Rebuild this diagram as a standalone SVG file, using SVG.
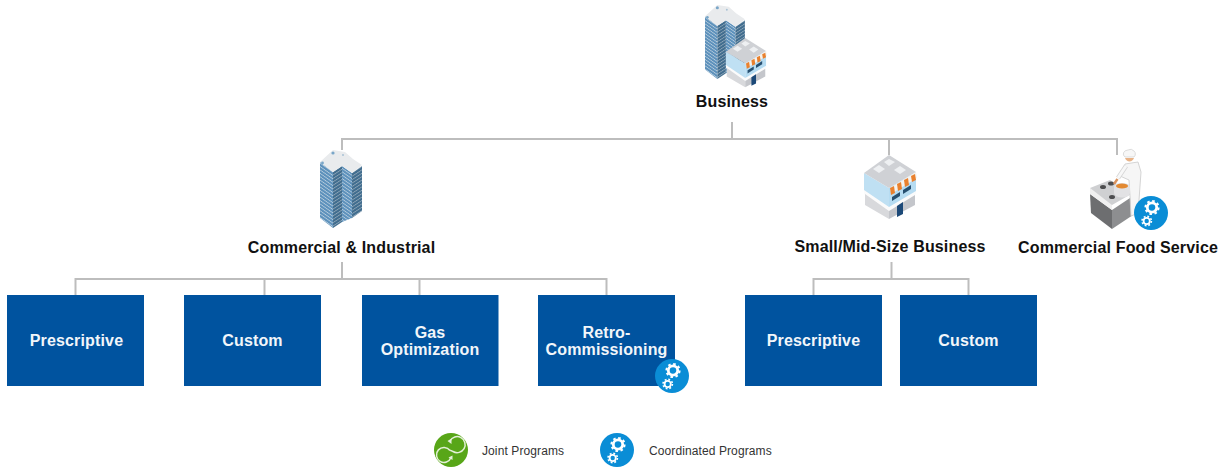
<svg xmlns="http://www.w3.org/2000/svg" width="1230" height="470" viewBox="0 0 1230 470">
<style>
text{font-family:"Liberation Sans",Arial,sans-serif}
.lbl{font-size:16px;font-weight:700;fill:#111;text-anchor:middle;letter-spacing:.15px}
.box{fill:#00539f}
.bt{font-size:16px;font-weight:700;fill:#f2f6fa;text-anchor:middle;letter-spacing:.15px}
.leg{font-size:12px;fill:#333;letter-spacing:.1px}
.con{fill:none;stroke:#bdbdbd;stroke-width:2}
.icon{filter:url(#soft)}
</style>
<defs>
<filter id="soft" x="-5%" y="-5%" width="110%" height="110%"><feGaussianBlur stdDeviation=".5"/></filter>
<pattern id="st1" width="4" height="3.4" patternUnits="userSpaceOnUse" patternTransform="skewY(35)"><rect width="4" height="3.4" fill="#5b90bb"/><rect width="4" height="1" fill="#b4cbdc"/></pattern>
<pattern id="st2" width="4" height="3.4" patternUnits="userSpaceOnUse" patternTransform="skewY(-33)"><rect width="4" height="3.4" fill="#3f6c8e"/><rect width="4" height="1" fill="#8ca4b6"/></pattern>
<g id="tower">
<polygon points="0,13 13,23 13,79 0,69" fill="url(#st1)"/>
<polygon points="13,23 22,17 22,73 13,79" fill="url(#st2)"/>
<polygon points="22,17 32,24 32,69 22,73" fill="url(#st1)"/>
<polygon points="32,24 42,17 42,62 32,69" fill="url(#st2)"/>
<polygon points="0,13 13,1 25,3 33,10 42,16 32,24 22,17 13,23" fill="#e9ebed"/>
<circle cx="2.500" cy="14" r="1.400" fill="#79a6c8"/><circle cx="13" cy="4" r="1.600" fill="#79a6c8"/><circle cx="23" cy="6" r="1" fill="#a9c2d5"/>
</g>
<g id="store">
<polygon points="0,18 25,33 25,55 0,37" fill="#bfe0f3"/>
<polygon points="25,33 52,17 52,38 25,55" fill="#b6dcf2"/>
<polygon points="0,18 25,0 52,17 25,33" fill="#cfd1d5"/>
<polygon points="9,14 15,10 21,14 15,18" fill="#eef0f2"/><polygon points="20,7 25,4 31,7 25,11" fill="#eef0f2"/><polygon points="30,15 36,11 42,15 36,19" fill="#eef0f2"/>
<polygon points="0,35 25,52 52,36 52,39 25,56 0,39" fill="#fbfbfb"/>
<polygon points="1,39 25,56 25,64 1,50" fill="#d8d9dc"/>
<polygon points="25,56 51,40 51,50 25,64" fill="#c4c6cb"/>
<polygon points="26,33 52,17 53,23 27,39" fill="#f6f3ee"/>
<polygon points="26,33 30,31 31,38 27,40" fill="#e9812f"/><polygon points="33,29 37,27 38,34 34,36" fill="#e9812f"/><polygon points="40,25 44,23 45,30 41,32" fill="#e9812f"/><polygon points="47,21 51,19 52,25 48,27" fill="#e9812f"/>
<polygon points="28,42 36,37 36,41 28,46" fill="#26506f"/><polygon points="39,35 47,30 47,34 39,39" fill="#26506f"/>
<polygon points="33,51 39,47 39,59 33,62" fill="#1d4a78"/>
</g>
<g id="gears" fill="none" stroke="#fff">
<circle cx="1" cy="-5.500" r="4.700" stroke-width="2.800"/>
<circle cx="1" cy="-5.500" r="6.600" stroke-width="2" stroke-dasharray="2.590 2.590"/>
<circle cx="-4.300" cy="8" r="3.100" stroke-width="1.800"/>
<circle cx="-4.300" cy="8" r="4.700" stroke-width="1.600" stroke-dasharray="1.850 1.850"/>
</g>
<g id="coord"><circle r="17" fill="#0a8dd6"/><use href="#gears"/></g>
</defs>

<g id="connectors">
<path class="con" d="M732 122V139M342 150V139H1117V155M889 139V155"/>
<path class="con" d="M342 262V279M75.500 295V279H606.500V295M264.500 279V295M419.500 279V295"/>
<path class="con" d="M891.500 262V279M813.500 295V279H968.500V295"/>
</g>

<g id="business">
<use class="icon" href="#tower" transform="translate(705,4) scale(.95)"/>
<use class="icon" href="#store" transform="translate(726,38) scale(.77)"/>
<text class="lbl" x="732" y="107">Business</text>
</g>
<g id="commercial-industrial">
<use class="icon" href="#tower" transform="translate(320,149)"/>
<text class="lbl" x="341.500" y="253">Commercial &amp; Industrial</text>
</g>
<g id="small-mid-size">
<use class="icon" href="#store" transform="translate(864,155)"/>
<text class="lbl" x="890" y="252">Small/Mid-Size Business</text>
</g>
<g id="food-service">
<g class="icon">
<polygon points="1090,194 1112,210 1112,229 1091,213" fill="#6d6e70"/>
<polygon points="1112,210 1133,196 1133,215 1112,229" fill="#8d8e90"/>
<polygon points="1090,188 1112,204 1112,210 1090,194" fill="#f0f0f0"/>
<polygon points="1090,188 1110,180 1133,193 1112,205" fill="#cfd0d2"/>
<ellipse cx="1103" cy="187" rx="3" ry="2" fill="#4d4d4f"/><ellipse cx="1111" cy="183.500" rx="3" ry="2" fill="#4d4d4f"/><ellipse cx="1112" cy="197" rx="3" ry="2" fill="#4d4d4f"/>
<polygon points="1125,164 1138,162 1141,172 1139,200 1136,214 1131,216 1130,196 1129,180 1120,176" fill="#f6f6f6" stroke="#cfcfcf" stroke-width=".9"/>
<path d="M1126 166L1118 178" stroke="#d4d4d4" stroke-width="4.500" fill="none"/>
<path d="M1126 166L1118 178" stroke="#f8f8f8" stroke-width="3" fill="none"/>
<path d="M1117.500 179L1114 184" stroke="#d9935f" stroke-width="2.500" fill="none"/>
<path d="M1114 187v6a8 4.500 0 0 0 16 0v-6z" fill="#e2e2e4"/>
<ellipse cx="1122" cy="186.500" rx="8" ry="3.500" fill="#e2e2e4"/>
<ellipse cx="1122" cy="186" rx="6" ry="2.500" fill="#e38a33"/>
<path d="M1125 158a5 6 0 0 0 9 0z" fill="#e8b388"/>
<path d="M1125 157a5 4 0 0 1 3-7a4.500 4 0 0 1 6 1a4 4 0 0 1 0 6z" fill="#f7f7f7" stroke="#cfcfcf" stroke-width=".7"/>
</g>
<use href="#coord" x="1151" y="213"/>
<text class="lbl" x="1118" y="253">Commercial Food Service</text>
</g>

<g id="n-prescriptive-1"><rect class="box" x="7" y="295" width="137" height="91"/><text class="bt" x="76.500" y="346">Prescriptive</text></g>
<g id="n-custom-1"><rect class="box" x="184" y="295" width="137" height="91"/><text class="bt" x="252.500" y="346">Custom</text></g>
<g id="n-gas"><rect class="box" x="362" y="295" width="136.500" height="91"/><text class="bt" x="430" y="338">Gas</text><text class="bt" x="430" y="355">Optimization</text></g>
<g id="n-retro"><rect class="box" x="538" y="295" width="137" height="91"/><text class="bt" x="606.500" y="338">Retro-</text><text class="bt" x="606.500" y="355">Commissioning</text><use href="#coord" x="672" y="376"/></g>
<g id="n-prescriptive-2"><rect class="box" x="745" y="295" width="137" height="91"/><text class="bt" x="813.500" y="346">Prescriptive</text></g>
<g id="n-custom-2"><rect class="box" x="900" y="295" width="137" height="91"/><text class="bt" x="968.500" y="346">Custom</text></g>

<g id="legend-joint">
<circle cx="451" cy="450" r="17" fill="#58a618"/>
<path d="M450 450.500A7.500 7.500 0 1 0 451 457.500" fill="none" stroke="#e4f0d8" stroke-width="1.500"/>
<path d="M450 450.500C451 450 452 451 453 451.500A8 8 0 1 0 450 441" fill="none" stroke="#e4f0d8" stroke-width="1.500"/>
<path d="M447.500 441l4-2.500v5.500zM452.500 455.500v4.500l-4-2.500z" fill="#e4f0d8"/>
<text class="leg" x="482" y="455">Joint Programs</text>
</g>
<g id="legend-coordinated">
<use href="#coord" x="617" y="450"/>
<text class="leg" x="649" y="455">Coordinated Programs</text>
</g>
</svg>
